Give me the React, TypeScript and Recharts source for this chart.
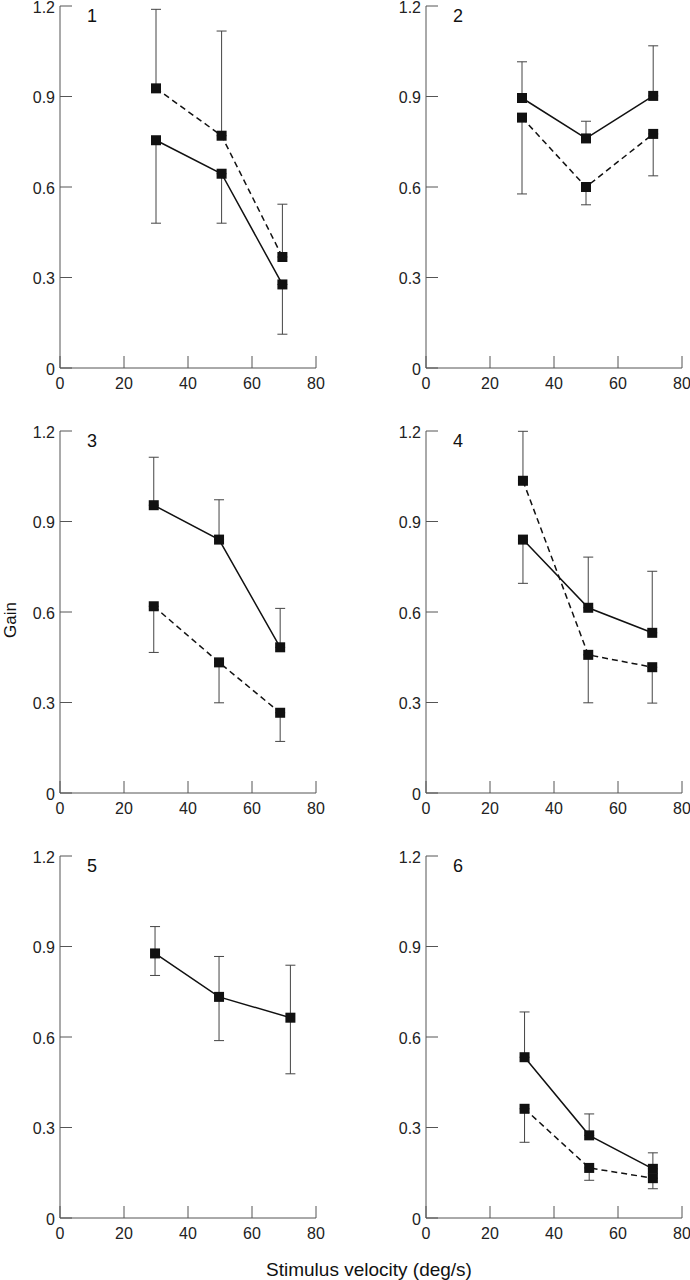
import React from 'react'
import { LineChart, Line, XAxis, YAxis, ErrorBar } from 'recharts'

const xTicks = [0, 20, 40, 60, 80]
const yTicks = [0, 0.3, 0.6, 0.9, 1.2]

// errors are [below, above] the mean; most bars in the figure are one-sided
const vel1 = [30, 50.5, 69.5]
const solid1 = [0.755, 0.644, 0.277]
const solidErr1 = [[0.275, 0], [0.164, 0], [0.165, 0]]
const dashed1 = [0.927, 0.77, 0.368]
const dashedErr1 = [[0, 0.262], [0, 0.347], [0, 0.175]]

const vel2 = [30, 50, 71]
const solid2 = [0.895, 0.761, 0.902]
const solidErr2 = [[0, 0.12], [0, 0.057], [0, 0.166]]
const dashed2 = [0.83, 0.6, 0.776]
const dashedErr2 = [[0.253, 0], [0.059, 0], [0.139, 0]]

const vel3 = [29.3, 49.7, 68.8]
const solid3 = [0.954, 0.84, 0.483]
const solidErr3 = [[0, 0.159], [0, 0.132], [0, 0.129]]
const dashed3 = [0.619, 0.433, 0.266]
const dashedErr3 = [[0.153, 0], [0.134, 0], [0.095, 0]]

const vel4 = [30.3, 50.7, 70.7]
const solid4 = [0.84, 0.614, 0.531]
const solidErr4 = [[0.145, 0], [0, 0.168], [0, 0.204]]
const dashed4 = [1.035, 0.458, 0.417]
const dashedErr4 = [[0, 0.164], [0.159, 0], [0.119, 0]]

const vel5 = [29.7, 49.7, 72]
const solid5 = [0.877, 0.733, 0.664]
const solidErr5 = [[0.073, 0.089], [0.145, 0.134], [0.186, 0.174]]

const vel6 = [30.8, 51, 70.9]
const solid6 = [0.533, 0.274, 0.163]
const solidErr6 = [[0, 0.15], [0, 0.071], [0, 0.053]]
const dashed6 = [0.362, 0.166, 0.132]
const dashedErr6 = [[0.111, 0], [0.041, 0], [0.035, 0]]

const FONT = '"Liberation Sans", Arial, Helvetica, sans-serif'
const AXIS = '#555'
const INK = '#111'
const MT = 12 // room above the plot so the 1.2 label is not clipped

function rows(vel: number[], solid: number[], solidErr: number[][], dashed?: number[], dashedErr?: number[][]) {
  return vel.map((v, i) => ({
    v,
    solid: solid[i],
    solidErr: solidErr[i],
    dashed: dashed ? dashed[i] : null,
    dashedErr: dashedErr ? dashedErr[i] : null,
  }))
}

const square = (props: any) => {
  const { cx, cy, index } = props
  if (cx == null || cy == null) return <g key={`n-${index}`} />
  return <rect key={`sq-${index}`} x={cx - 5} y={cy - 5} width={10} height={10} fill={INK} />
}

// tick marks in this figure point into the plot
const YTick = (props: any) => {
  const { x, y, payload } = props
  const ax = x + 5
  const v = payload.value
  return (
    <g>
      <line x1={ax} x2={ax + 12} y1={y} y2={y} stroke={AXIS} strokeWidth={1} />
      <text x={x} y={y} dy="0.42em" textAnchor="end" fontSize={16} fontFamily={FONT} fill="#222">
        {v === 0 ? '0' : v.toFixed(1)}
      </text>
    </g>
  )
}

const XTick = (props: any) => {
  const { x, y, payload } = props
  return (
    <g>
      <line x1={x} x2={x} y1={y} y2={y - 12} stroke={AXIS} strokeWidth={1} />
      <text x={x} y={y + 21} textAnchor="middle" fontSize={16} fontFamily={FONT} fill="#222">
        {payload.value}
      </text>
    </g>
  )
}

function Panel({ left, top, data, dashed }: { left: number; top: number; data: any[]; dashed: boolean }) {
  return (
    <div style={{ position: 'absolute', left: left - 60, top: top - MT }}>
      <LineChart width={326} height={362 + MT + 33} data={data} margin={{ top: MT, right: 10, bottom: 3, left: 10 }}>
        <XAxis
          dataKey="v"
          type="number"
          domain={[0, 80]}
          ticks={xTicks}
          height={30}
          stroke={AXIS}
          tickLine={false}
          tickSize={0}
          tickMargin={0}
          tick={<XTick />}
          interval={0}
        />
        <YAxis
          type="number"
          domain={[0, 1.2]}
          ticks={yTicks}
          width={50}
          stroke={AXIS}
          tickLine={false}
          tickSize={0}
          tickMargin={5}
          tick={<YTick />}
          interval={0}
          allowDataOverflow
        />
        <Line
          dataKey="solid"
          stroke={INK}
          strokeWidth={1.5}
          dot={square}
          activeDot={false}
          isAnimationActive={false}
        >
          <ErrorBar dataKey="solidErr" direction="y" width={5} stroke="#444" strokeWidth={1} isAnimationActive={false} />
        </Line>
        {dashed && (
          <Line
            dataKey="dashed"
            stroke={INK}
            strokeWidth={1.5}
            strokeDasharray="6 4"
            dot={square}
            activeDot={false}
            isAnimationActive={false}
          >
            <ErrorBar dataKey="dashedErr" direction="y" width={5} stroke="#444" strokeWidth={1} isAnimationActive={false} />
          </Line>
        )}
      </LineChart>
    </div>
  )
}

const panels = [
  { n: '1', left: 60, top: 6, data: rows(vel1, solid1, solidErr1, dashed1, dashedErr1), dashed: true },
  { n: '2', left: 426, top: 6, data: rows(vel2, solid2, solidErr2, dashed2, dashedErr2), dashed: true },
  { n: '3', left: 60, top: 431, data: rows(vel3, solid3, solidErr3, dashed3, dashedErr3), dashed: true },
  { n: '4', left: 426, top: 431, data: rows(vel4, solid4, solidErr4, dashed4, dashedErr4), dashed: true },
  { n: '5', left: 60, top: 856, data: rows(vel5, solid5, solidErr5), dashed: false },
  { n: '6', left: 426, top: 856, data: rows(vel6, solid6, solidErr6, dashed6, dashedErr6), dashed: true },
]

export default function App() {
  return (
    <div
      style={{
        position: 'absolute',
        left: 0,
        top: 0,
        width: 690,
        height: 1280,
        overflow: 'hidden',
        background: '#fff',
      }}
    >
      {panels.map((p) => (
        <Panel key={p.n} left={p.left} top={p.top} data={p.data} dashed={p.dashed} />
      ))}
      <svg width={690} height={1280} style={{ position: 'absolute', left: 0, top: 0, pointerEvents: 'none' }}>
        {panels.map((p) => (
          <text key={p.n} x={p.left + 27} y={p.top + 16} fontSize={18} fontFamily={FONT} fill="#111">
            {p.n}
          </text>
        ))}
        <text
          x={16}
          y={620}
          transform="rotate(-90 16 620)"
          textAnchor="middle"
          fontSize={17}
          fontFamily={FONT}
          fill="#111"
        >
          Gain
        </text>
        <text x={369} y={1276} textAnchor="middle" fontSize={19} fontFamily={FONT} fill="#111">
          Stimulus velocity (deg/s)
        </text>
      </svg>
    </div>
  )
}
